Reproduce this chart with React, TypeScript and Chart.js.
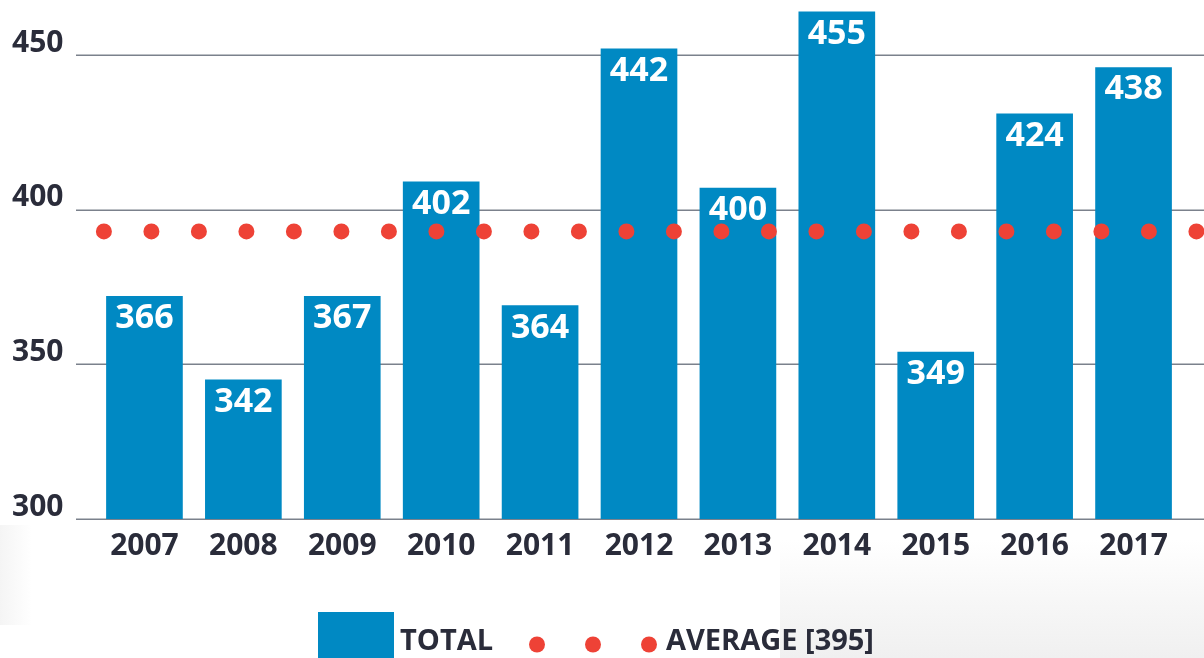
import React, { useEffect, useRef } from 'react';
import { Chart, registerables } from 'chart.js';

Chart.register(...registerables);

// ---- data ----
const years = ['2007', '2008', '2009', '2010', '2011', '2012', '2013', '2014', '2015', '2016', '2017'];
// bar heights as read against the y axis of the picture
const barHeights = [372, 345, 372, 409, 369, 452, 407, 464, 354, 431, 446];
// numbers printed inside the bars
const barLabels = ['366', '342', '367', '402', '364', '442', '400', '455', '349', '424', '438'];
// dotted average line, read against the y axis
const averageValue = 393;
// span of the dotted line in category-index units
const averageSpan = [-0.41, 10.64];
const yTicks = [300, 350, 400, 450];
const totalLabel = 'TOTAL';
const averageLabel = 'AVERAGE [395]';

const BLUE = '#0089c3';
const RED = '#ee4236';
const TEXT = '#2a2c3a';
const GRID = '#7b818c';
const FONT = "'Open Sans', sans-serif";

const gridPlugin = {
  id: 'extendedGrid',
  beforeDatasetsDraw(chart: any) {
    const { ctx } = chart;
    const y = chart.scales.y;
    ctx.save();
    ctx.strokeStyle = GRID;
    ctx.lineWidth = 1.6;
    y.ticks.forEach((t: any) => {
      const py = Math.round(y.getPixelForValue(t.value)) + 0.2;
      ctx.beginPath();
      ctx.moveTo(76, py);
      ctx.lineTo(chart.width, py);
      ctx.stroke();
    });
    ctx.restore();
  },
};

const barLabelPlugin = {
  id: 'barLabels',
  afterDatasetsDraw(chart: any) {
    const { ctx } = chart;
    const meta = chart.getDatasetMeta(0);
    ctx.save();
    ctx.fillStyle = '#ffffff';
    ctx.font = `bold 34px ${FONT}`;
    ctx.textAlign = 'center';
    ctx.textBaseline = 'alphabetic';
    meta.data.forEach((bar: any, i: number) => {
      ctx.fillText(barLabels[i], bar.x, bar.y + 32);
    });
    ctx.restore();
  },
};

const legendPlugin = {
  id: 'customLegend',
  afterDraw(chart: any) {
    const { ctx } = chart;
    const left = 318;
    ctx.save();
    // TOTAL swatch
    ctx.fillStyle = BLUE;
    ctx.fillRect(left, 612, 76, 50);
    ctx.fillStyle = TEXT;
    ctx.font = `bold 29px ${FONT}`;
    ctx.textAlign = 'left';
    ctx.textBaseline = 'alphabetic';
    ctx.fillText(totalLabel, left + 82, 650);
    // AVERAGE swatch: three dots
    ctx.fillStyle = RED;
    [219, 275, 331].forEach((dx) => {
      ctx.beginPath();
      ctx.arc(left + dx, 644.5, 8, 0, Math.PI * 2);
      ctx.fill();
    });
    ctx.fillStyle = TEXT;
    ctx.fillText(averageLabel, left + 348, 650);
    ctx.restore();
  },
};

export default function App() {
  const ref = useRef<HTMLCanvasElement>(null);

  useEffect(() => {
    if (!ref.current) return;
    const chart = new Chart(ref.current, {
      type: 'bar',
      data: {
        datasets: [
          {
            type: 'bar',
            label: totalLabel,
            data: barHeights.map((y, i) => ({ x: i, y })),
            backgroundColor: BLUE,
            barThickness: 76,
            grouped: false,
            clip: { left: 0, top: false, right: 0, bottom: 0 },
            order: 1,
          } as any,
          {
            type: 'line',
            label: averageLabel,
            data: averageSpan.map((x) => ({ x, y: averageValue })),
            borderColor: RED,
            borderWidth: 16,
            borderDash: [0.01, 47.49],
            borderCapStyle: 'round',
            pointRadius: 0,
            fill: false,
            clip: false,
            order: 0,
          } as any,
        ],
      },
      options: {
        responsive: false,
        animation: false,
        layout: { padding: { top: 5, right: 21, bottom: 0, left: 12 } },
        plugins: {
          legend: { display: false },
          tooltip: { enabled: false },
        },
        scales: {
          x: {
            type: 'linear',
            offset: false,
            min: -0.5,
            max: years.length - 0.5,
            grid: { display: false, drawTicks: false, offset: false },
            border: { display: false },
            afterBuildTicks: (s: any) => {
              s.ticks = years.map((_, i) => ({ value: i }));
            },
            ticks: {
              color: TEXT,
              font: { family: FONT, size: 30, weight: 'bold' },
              padding: 9,
              maxRotation: 0,
              autoSkip: false,
              callback: (_v: any, i: number) => years[i],
            },
            afterFit: (s: any) => {
              s.height = 139;
            },
          },
          y: {
            type: 'linear',
            position: 'left',
            min: 300,
            max: 462,
            grid: { display: false, drawTicks: false },
            border: { display: false },
            afterBuildTicks: (s: any) => {
              s.ticks = yTicks.map((value) => ({ value }));
            },
            ticks: {
              color: TEXT,
              font: { family: FONT, size: 30, weight: 'bold' },
              crossAlign: 'far',
              labelOffset: -12,
              padding: 0,
            },
            afterFit: (s: any) => {
              s.width = 83;
            },
          },
        },
      } as any,
      plugins: [gridPlugin, barLabelPlugin, legendPlugin],
    });
    return () => chart.destroy();
  }, []);

  return (
    <div
      style={{
        position: 'absolute',
        left: 0,
        top: 0,
        width: 1204,
        height: 658,
        overflow: 'hidden',
        background: '#ffffff',
      }}
    >
      <div
        style={{
          position: 'absolute',
          left: 780,
          top: 540,
          width: 424,
          height: 118,
          background: 'linear-gradient(180deg, rgba(247,247,247,0) 0%, #f7f7f7 50%, #f0f0f0 100%)',
        }}
      />
      <div
        style={{
          position: 'absolute',
          left: 0,
          top: 525,
          width: 32,
          height: 100,
          background: 'linear-gradient(90deg, rgba(242,242,242,0.8), rgba(255,255,255,0))',
        }}
      />
      <canvas ref={ref} width={1204} height={658} style={{ position: 'absolute', left: 0, top: 0 }} />
    </div>
  );
}
